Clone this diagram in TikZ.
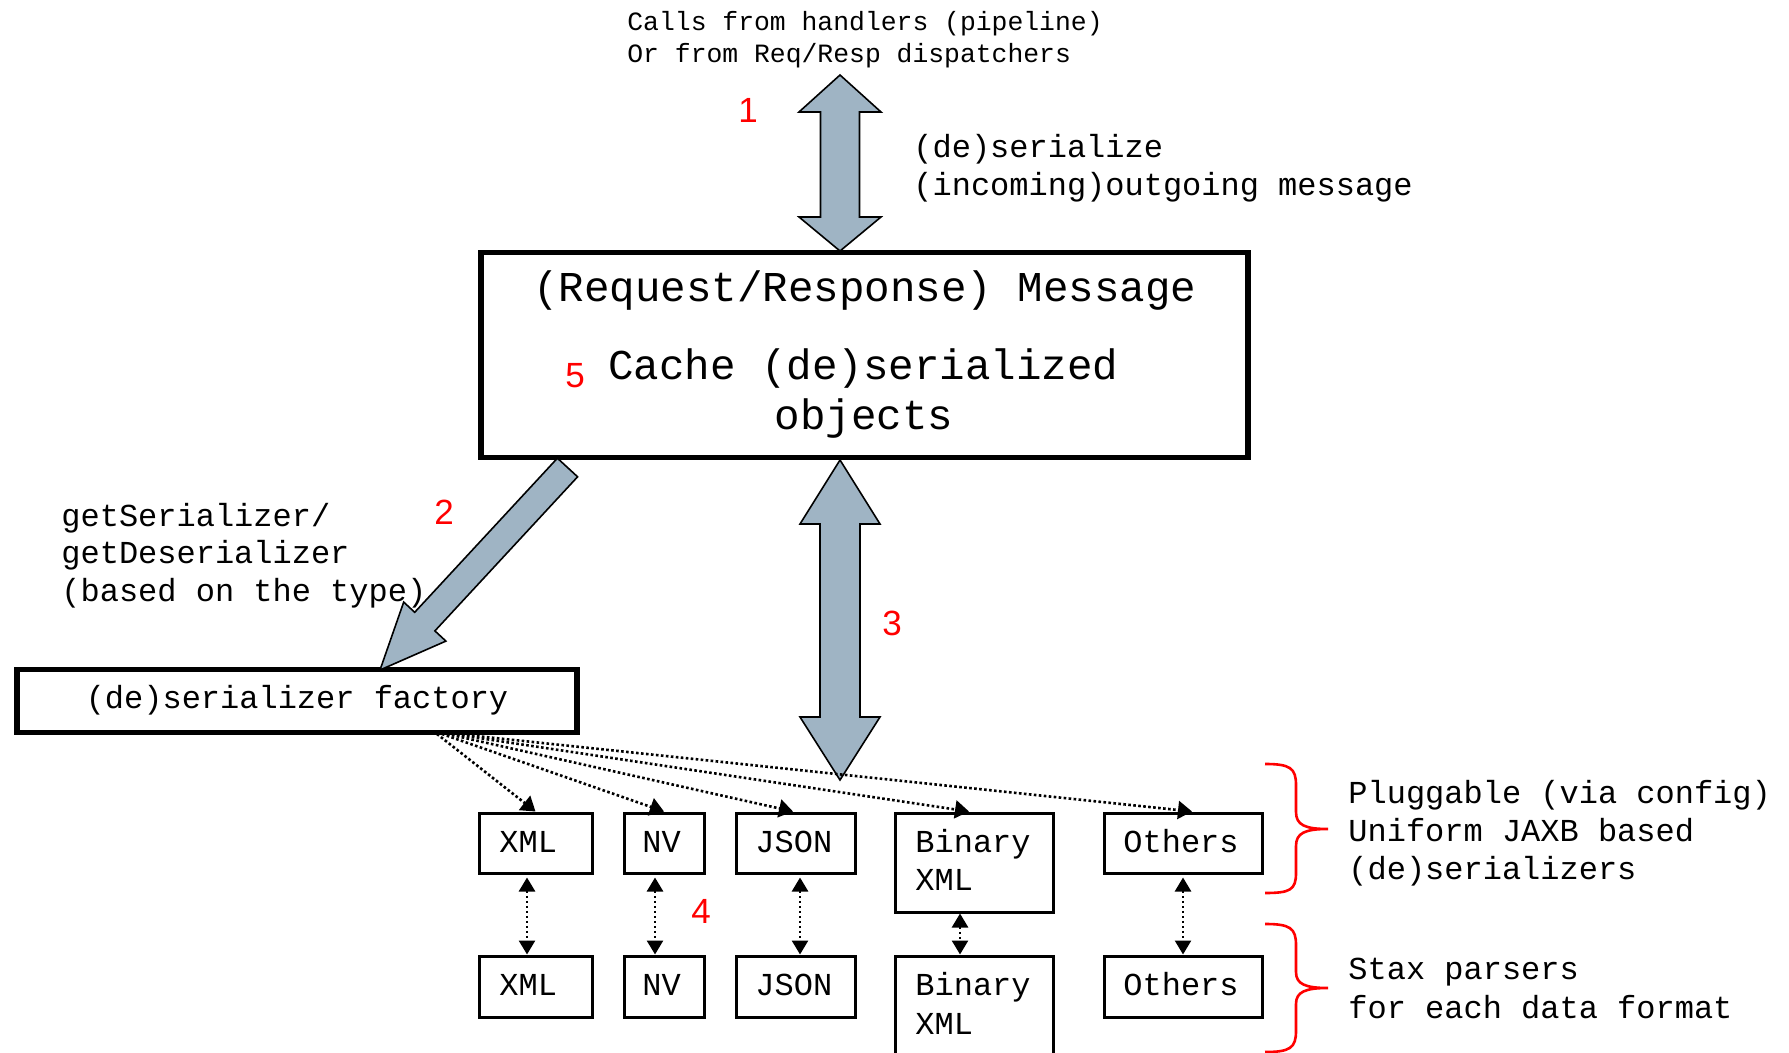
\documentclass[tikz,border=0pt]{standalone}
\usepackage{fontspec}
\setmonofont{Liberation Mono}
\newfontfamily\numfont{Liberation Sans}
\usetikzlibrary{arrows.meta}
\definecolor{arrowfill}{RGB}{159,180,196}
\tikzset{
  box/.style={draw, line width=1.5pt, inner sep=0pt},
  bigbox/.style={draw, line width=2.6pt, inner sep=0pt},
  tsm/.style={inner sep=0pt, anchor=base west, font=\ttfamily\fontsize{13.2}{15}\selectfont},
  tmd/.style={inner sep=0pt, anchor=base west, font=\ttfamily\fontsize{16}{19}\selectfont},
  tlg/.style={inner sep=0pt, anchor=base, font=\ttfamily\fontsize{21.25}{25}\selectfont},
  num/.style={inner sep=0pt, anchor=base, text=red, font=\numfont\fontsize{17.5}{20}\selectfont},
  blockarrow/.style={fill=arrowfill, draw=black, line width=0.8pt, line join=miter},
  dotline/.style={line width=1.3pt, dash pattern=on 1.3pt off 1.2pt},
  dotarrow/.style={dotline, -{Triangle[length=7pt,width=9pt]}},
  dotdouble/.style={dotline, {Triangle[length=7pt,width=8pt]}-{Triangle[length=7pt,width=8pt]}},
  bracestyle/.style={draw=red, line width=1.3pt}
}
\begin{document}
\begin{tikzpicture}[x=0.5pt,y=-0.5pt]
\useasboundingbox (0,0) rectangle (1789,1053);
\clip (0,0) rectangle (1789,1053);

% top text
\node[tsm] (calls1) at (627,31) {Calls from handlers (pipeline)};
\node[tsm] (calls2) at (627,63) {Or from Req/Resp dispatchers};
\node[tmd] (des1) at (913,158) {(de)serialize};
\node[tmd] (des2) at (913,196) {(incoming)outgoing message};

% main message box
\node[bigbox, minimum width=383.5pt, minimum height=102.5pt] (msg) at (864.5,355) {};
\node[tlg] (msg1) at (865,302) {(Request/Response) Message};
\node[tlg] (msg2) at (863.5,380) {Cache (de)serialized};
\node[tlg] (msg3) at (864,430) {objects};

% factory
\node[bigbox, minimum width=280pt, minimum height=31.5pt] (fac) at (297,701) {};
\node[tmd, anchor=base] (factext) at (297,708) {(de)serializer factory};
\node[tmd] (get1) at (61,526) {getSerializer/};
\node[tmd] (get2) at (61,563) {getDeserializer};
\node[tmd] (get3) at (61,601) {(based on the type)};

% block arrows
\draw[blockarrow] (840,75) -- (881,112) -- (859.5,112) -- (859.5,217) -- (881,217) -- (840,251)
  -- (799,217) -- (820.5,217) -- (820.5,112) -- (799,112) -- cycle;
\draw[blockarrow] (840,460) -- (880,524) -- (860,524) -- (860,717) -- (880,717) -- (840,780)
  -- (800,717) -- (820,717) -- (820,524) -- (800,524) -- cycle;
\draw[blockarrow] (557.4,458.2) -- (577.6,476.8) -- (434.9,630.9) -- (445.9,641.1) -- (380,670)
  -- (403.7,602.1) -- (414.7,612.3) -- cycle;

% red numbers
\node[num] (n1) at (748,123) {1};
\node[num] (n2) at (444,524) {2};
\node[num] (n3) at (892,635) {3};
\node[num] (n4) at (701,923) {4};
\node[num] (n5) at (575,388) {5};

% top row boxes
\node[box, minimum width=56.5pt, minimum height=30pt] (xmlA) at (535.5,843) {};
\node[box, minimum width=40pt, minimum height=30pt] (nvA) at (664,843) {};
\node[box, minimum width=59.5pt, minimum height=30pt] (jsonA) at (795.5,843) {};
\node[box, minimum width=79pt, minimum height=49.5pt] (binA) at (974,862.5) {};
\node[box, minimum width=79pt, minimum height=30pt] (othA) at (1183,843) {};
\node[tmd] (xmlAl) at (499,852) {XML};
\node[tmd] (nvAl) at (642,852) {NV};
\node[tmd] (jsonAl) at (755,852) {JSON};
\node[tmd] (binAl1) at (915,852) {Binary};
\node[tmd] (binAl2) at (915,890) {XML};
\node[tmd] (othAl) at (1123,852) {Others};

% bottom row boxes
\node[box, minimum width=56.5pt, minimum height=30.5pt] (xmlB) at (535.5,986.5) {};
\node[box, minimum width=40pt, minimum height=30.5pt] (nvB) at (664,986.5) {};
\node[box, minimum width=59.5pt, minimum height=30.5pt] (jsonB) at (795.5,986.5) {};
\node[box, minimum width=79pt, minimum height=59.5pt] (binB) at (974,1015.5) {};
\node[box, minimum width=79pt, minimum height=30.5pt] (othB) at (1183,986.5) {};
\node[tmd] (xmlBl) at (499,995) {XML};
\node[tmd] (nvBl) at (642,995) {NV};
\node[tmd] (jsonBl) at (755,995) {JSON};
\node[tmd] (binBl1) at (915,995) {Binary};
\node[tmd] (binBl2) at (915,1034) {XML};
\node[tmd] (othBl) at (1123,995) {Others};

% dotted fan from factory
\coordinate (fo1) at (437,734);
\coordinate (fo2) at (442,734);
\coordinate (fo3) at (447,734);
\coordinate (fo4) at (452,734);
\coordinate (fo5) at (457,734);
\draw[dotarrow] (fo1) -- (xmlA.north);
\draw[dotarrow] (fo2) -- (nvA.north);
\draw[dotarrow] (fo3) -- ([xshift=-1.25pt]jsonA.north);
\draw[dotarrow] (fo4) -- ([xshift=-2.5pt]binA.north);
\draw[dotarrow] (fo5) -- ([xshift=4.5pt]othA.north);

% vertical dotted double arrows
\draw[dotdouble] ([xshift=-4.25pt,yshift=-1.5pt]xmlA.south) -- ([xshift=-4.25pt]xmlB.north);
\draw[dotdouble] ([xshift=-4.5pt,yshift=-1.5pt]nvA.south) -- ([xshift=-4.5pt]nvB.north);
\draw[dotdouble] ([xshift=2.25pt,yshift=-1.5pt]jsonA.south) -- ([xshift=2.25pt]jsonB.north);
\draw[dotdouble] ([xshift=-7pt]binA.south) -- ([xshift=-7pt]binB.north);
\draw[dotdouble] ([yshift=-1.5pt]othA.south) -- (othB.north);

% braces
\draw[bracestyle] (1265,764) .. controls (1290,764) and (1296,768) .. (1296,785) -- (1296,812)
  .. controls (1296,825) and (1305,829) .. (1328,829)
  .. controls (1305,829) and (1296,833) .. (1296,846) -- (1296,873)
  .. controls (1296,890) and (1290,893) .. (1265,893);
\draw[bracestyle] (1265,924) .. controls (1290,924) and (1296,928) .. (1296,945) -- (1296,972)
  .. controls (1296,984) and (1305,988) .. (1328,988)
  .. controls (1305,988) and (1296,992) .. (1296,1004) -- (1296,1031)
  .. controls (1296,1048) and (1290,1052) .. (1265,1052);

% right labels
\node[tmd] (plug1) at (1348,803) {Pluggable (via config)};
\node[tmd] (plug2) at (1348,841) {Uniform JAXB based};
\node[tmd] (plug3) at (1348,879) {(de)serializers};
\node[tmd] (stax1) at (1348,979) {Stax parsers};
\node[tmd] (stax2) at (1348,1018) {for each data format};
\end{tikzpicture}
\end{document}
